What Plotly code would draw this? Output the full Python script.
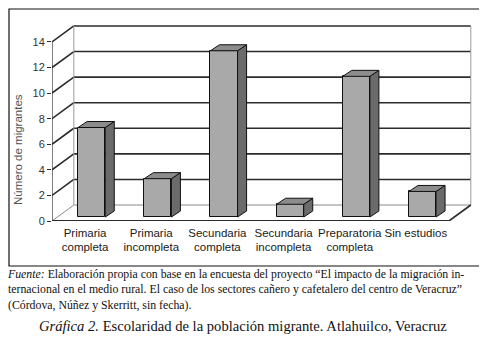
import plotly.graph_objects as go

# ---------------- data ----------------
categories = ["Primaria<br>completa", "Primaria<br>incompleta", "Secundaria<br>completa",
              "Secundaria<br>incompleta", "Preparatoria<br>completa", "Sin estudios"]
values = [7, 3, 13, 1, 11, 2]
y_ticks = [0, 2, 4, 6, 8, 10, 12, 14]
source_lines = [
    "<i>Fuente:</i> Elaboración propia con base en la encuesta del proyecto “El impacto de la migración in-",
    "ternacional en el medio rural. El caso de los sectores cañero y cafetalero del centro de Veracruz”",
    "(Córdova, Núñez y Skerritt, sin fecha).",
]
caption = "<i>Gráfica 2.</i> Escolaridad de la población migrante. Atlahuilco, Veracruz"

# ---------------- 3D-look geometry (data units) ----------------
DX, DY = 0.33, 1.25          # depth of the chart walls
BX, BY = 0.10, 0.31          # bar offset inside depth
BW = 0.41                    # bar width
BDX, BDY = 0.136, 0.47       # bar depth
XL, XR = -0.5, len(values) - 0.5
YMAX = max(y_ticks)

FRONT = "#a9a9a9"
SIDE = "#6b6b6b"
TOP = "#8c8c8c"
DARK = "#2b2b2b"

# page body has an 8px default margin: work in page pixels, shift into figure pixels
OFF = 8
W, H = 487 - OFF, 355 - OFF
PL, PR, PT, PB = 52 - OFF, 474 - OFF, 23 - OFF, 221 - OFF
pw, ph = PR - PL, PB - PT


def px_to_paper(px, py):
    """page pixel -> paper coordinate"""
    return (px - OFF - PL) / pw, (PB - (py - OFF)) / ph


fig = go.Figure()

shapes = []
for v in y_ticks:
    c = DARK if v > 0 else "#8a8a8a"
    w = 1.6 if v > 0 else 1
    shapes.append(dict(type="line", xref="x", yref="y", x0=XL + DX, x1=XR + DX,
                       y0=v + DY, y1=v + DY, line=dict(color=c, width=w), layer="below"))
    shapes.append(dict(type="line", xref="x", yref="y", x0=XL, x1=XL + DX,
                       y0=v, y1=v + DY, line=dict(color=c, width=w), layer="below"))
for xe in (XL + DX, XR + DX):
    shapes.append(dict(type="line", xref="x", yref="y", x0=xe, x1=xe, y0=DY, y1=YMAX + DY,
                       line=dict(color="#9a9a9a", width=1), layer="below"))
shapes.append(dict(type="line", xref="x", yref="y", x0=XL, x1=XL, y0=0, y1=YMAX,
                   line=dict(color=DARK, width=1.2), layer="below"))
shapes.append(dict(type="line", xref="x", yref="y", x0=XL, x1=XR, y0=0, y1=0,
                   line=dict(color=DARK, width=2), layer="below"))
shapes.append(dict(type="line", xref="x", yref="y", x0=XR, x1=XR + DX, y0=0, y1=DY,
                   line=dict(color=DARK, width=1.6), layer="below"))

# outer frame
fx0, fy0 = px_to_paper(OFF + 1, 266)
fx1, fy1 = px_to_paper(482, OFF + 1)
shapes.append(dict(type="rect", xref="paper", yref="paper", x0=fx0, x1=fx1, y0=fy0, y1=fy1,
                   line=dict(color="#111", width=1.2), layer="below"))

# front faces
xs = [i + BX for i in range(len(values))]
fig.add_trace(go.Bar(x=xs, y=values, base=[BY] * len(values), width=BW,
                     marker=dict(color=FRONT, line=dict(color="#111", width=1)),
                     hoverinfo="skip", showlegend=False))

# side and top faces
sx, sy, tx, ty = [], [], [], []
for x, v in zip(xs, values):
    x0, x1 = x - BW / 2, x + BW / 2
    yt = BY + v
    sx += [x1, x1 + BDX, x1 + BDX, x1, x1, None]
    sy += [BY, BY + BDY, yt + BDY, yt, BY, None]
    tx += [x0, x1, x1 + BDX, x0 + BDX, x0, None]
    ty += [yt, yt, yt + BDY, yt + BDY, yt, None]
fig.add_trace(go.Scatter(x=sx, y=sy, mode="lines", fill="toself", fillcolor=SIDE,
                         line=dict(color="#111", width=1), hoverinfo="skip", showlegend=False))
fig.add_trace(go.Scatter(x=tx, y=ty, mode="lines", fill="toself", fillcolor=TOP,
                         line=dict(color="#111", width=1), hoverinfo="skip", showlegend=False))


def ann(text, px, py, size, anchor="left", family="Liberation Serif, serif", color="#111", angle=0):
    x, y = px_to_paper(px, py)
    return dict(text=text, xref="paper", yref="paper", x=x, y=y, xanchor=anchor,
                yanchor="middle", showarrow=False, textangle=angle, align=anchor if anchor != "center" else "center",
                font=dict(family=family, size=size, color=color))


fig.update_layout(
    width=W, height=H,
    margin=dict(l=PL, r=W - PR, t=PT, b=H - PB),
    paper_bgcolor="white", plot_bgcolor="white",
    bargap=0,
    shapes=shapes,
    xaxis=dict(range=[XL, XL + pw / 66.16], showgrid=False, zeroline=False,
               showline=False, tickmode="array", tickvals=list(range(len(values))),
               ticktext=categories, ticks="", fixedrange=True, ticklabelstandoff=3,
               tickfont=dict(family="Liberation Sans, Arial", size=11.5, color="#1a1a1a")),
    yaxis=dict(range=[0, ph / 12.79], showgrid=False, zeroline=False, showline=False,
               tickmode="array", tickvals=y_ticks, ticks="outside", ticklen=4,
               tickcolor=DARK, fixedrange=True,
               tickfont=dict(family="Liberation Sans, Arial", size=11, color="#333")),
    annotations=[
        ann("Número de migrantes", 18, 150, 11.5, anchor="center",
            family="Liberation Sans, Arial", color="#555", angle=-90),
        ann("<br>".join(source_lines), 5, 289, 11.8),
        ann(caption, 243, 326, 14.6, anchor="center"),
    ],
)

fig.write_html("out.html")
